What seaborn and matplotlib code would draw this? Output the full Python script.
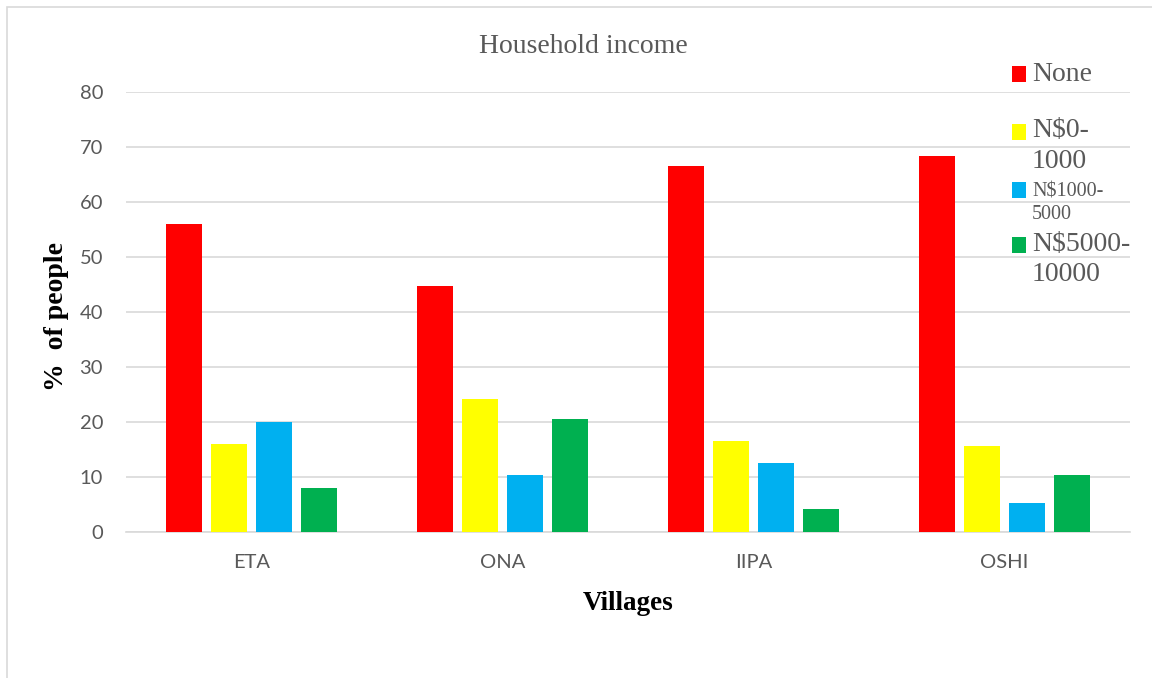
import matplotlib
matplotlib.use("Agg")
import matplotlib.pyplot as plt
import seaborn as sns
import pandas as pd
from matplotlib.patches import Rectangle

villages = ["ETA", "ONA", "IIPA", "OSHI"]
income_groups = ["None\n", "N\\$0-\n1000", "N\\$1000-\n5000", "N\\$5000-\n10000"]
none_vals = [56.0, 44.8, 66.5, 68.4]
n0_1000_vals = [16.0, 24.2, 16.5, 15.6]
n1000_5000_vals = [20.0, 10.4, 12.5, 5.3]
n5000_10000_vals = [8.0, 20.5, 4.2, 10.4]
colors = ["#FF0000", "#FFFF00", "#00B0F0", "#00B050"]
yticks = [0, 10, 20, 30, 40, 50, 60, 70, 80]

series = [none_vals, n0_1000_vals, n1000_5000_vals, n5000_10000_vals]
rows = []
for g, vals in zip(income_groups, series):
    for v, val in zip(villages, vals):
        rows.append({"Village": v, "Income": g, "Percent": val})
df = pd.DataFrame(rows)

sns.set_theme(style="white")
plt.rcParams["font.family"] = ["Lato", "DejaVu Sans"]

fig = plt.figure(figsize=(11.52, 6.78), dpi=100)
ax = fig.add_axes([126 / 1152, 146 / 678, 1004 / 1152, 440 / 678])

sns.barplot(data=df, x="Village", y="Percent", hue="Income", order=villages,
            hue_order=income_groups, palette=colors, width=0.717, gap=0.2,
            saturation=1, ax=ax, zorder=3, linewidth=0)

ax.set_ylim(0, 80)
ax.set_xlim(-0.5, 3.5)
ax.set_yticks(yticks)
ax.yaxis.grid(True, color="#D9D9D9", linewidth=1.2, zorder=0)
ax.set_axisbelow(True)
for s in ["left", "right", "top"]:
    ax.spines[s].set_visible(False)
ax.spines["bottom"].set_color("#D9D9D9")
ax.spines["bottom"].set_linewidth(1.2)
ax.tick_params(axis="both", length=0, labelsize=14.5, labelcolor="#595959")
ax.tick_params(axis="y", pad=16.5)
ax.tick_params(axis="x", pad=16)

ax.set_xlabel("Villages", family="Liberation Serif", fontsize=19.5, fontweight="bold",
              color="black", labelpad=14)
ax.set_ylabel("%  of people", family="Liberation Serif", fontsize=20, fontweight="bold",
              color="black")
ax.yaxis.set_label_coords(-0.0568, 0.49)
fig.text(583 / 1152, 1 - 53 / 678, "Household income", family="Liberation Serif",
         fontsize=20, color="#595959", ha="center", va="baseline")

handles, labels = ax.get_legend_handles_labels()
leg = ax.legend(handles, labels, loc="upper left", frameon=False,
                bbox_to_anchor=(1012 / 1152, 1 - 62 / 678), bbox_transform=fig.transFigure,
                handlelength=0.5, handleheight=0.5, handletextpad=0.22,
                labelspacing=0.3, prop={"family": "Liberation Serif", "size": 20},
                borderaxespad=0, borderpad=0)
sizes = [20, 20, 14.5, 20]
spacings = [0.9, 1.28, 1.25, 1.28]
for t, s, ls in zip(leg.get_texts(), sizes, spacings):
    t.set_fontsize(s)
    t.set_color("#595959")
    t.set_linespacing(ls)

# align each legend square with the first line of its label
fig.canvas.draw()
for t, h in zip(leg.get_texts(), leg.legend_handles):
    bb = t.get_window_extent()
    shift_px = bb.height / 4.0
    h.set_y(h.get_y() + shift_px * 72.0 / fig.dpi)

fig.patches.append(Rectangle((7 / 1152, -0.1), 1.2, 1 - 7 / 678 + 0.1,
                             transform=fig.transFigure, fill=False,
                             edgecolor="#D9D9D9", linewidth=1.2))

fig.savefig("out.png", dpi=100, facecolor="white")
